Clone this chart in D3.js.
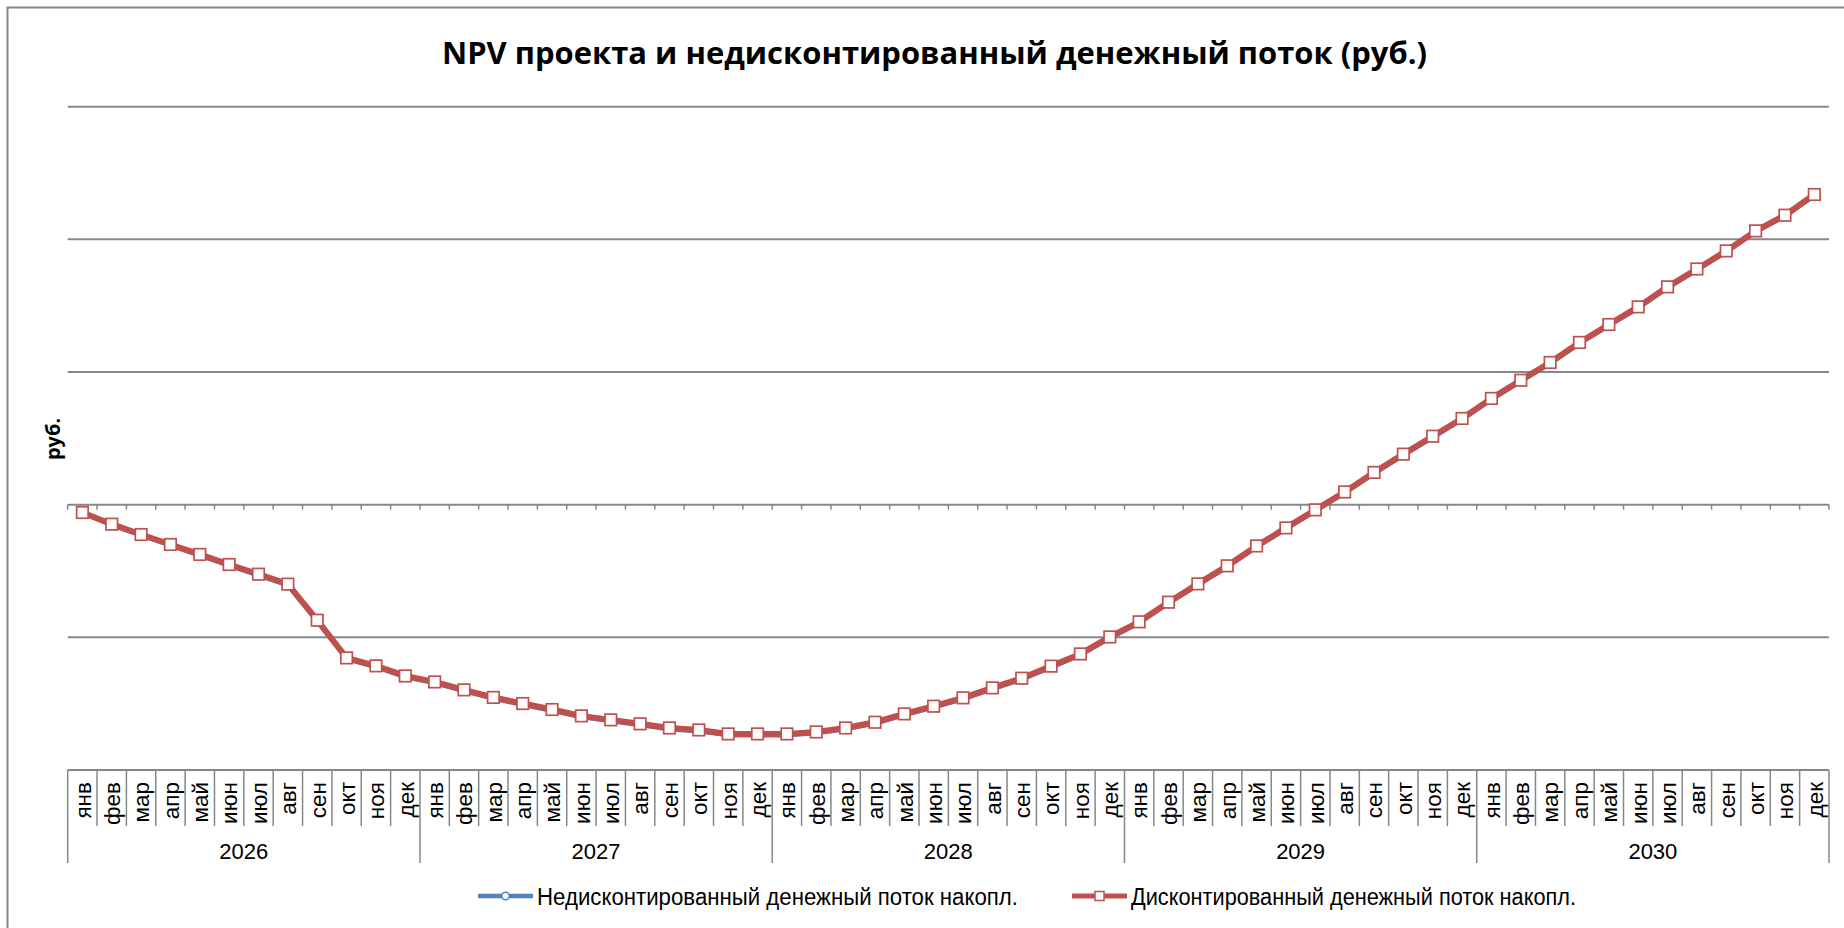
<!DOCTYPE html>
<html>
<head>
<meta charset="utf-8">
<script src="https://cdn.jsdelivr.net/npm/d3@7"></script>
<style>
  html, body { margin: 0; padding: 0; background: #fff; }
  svg { display: block; }
</style>
</head>
<body>
<svg id="chart" width="1844" height="928"></svg>
<script>
// ---------- DATA ----------
const months = ["янв","фев","мар","апр","май","июн","июл","авг","сен","окт","ноя","дек"];
const years = ["2026","2027","2028","2029","2030"];
const seriesNames = ["Недисконтированный денежный поток накопл.", "Дисконтированный денежный поток накопл."];

// Недисконтированный денежный поток накопл. (руб.)
const undiscounted = [
  -650000, -1550000, -2340000, -3090000, -3850000, -4610000, -5350000, -6100000, -8820000, -11660000, -12260000, -13020000,
  -13470000, -14070000, -14640000, -15100000, -15550000, -16030000, -16330000, -16630000, -16940000, -17090000, -17390000, -17390000,
  -17390000, -17240000, -16940000, -16510000, -15880000, -15300000, -14670000, -13920000, -13190000, -12280000, -11360000, -10080000,
  -8940000, -7460000, -6080000, -4720000, -3220000, -1860000, -500000, 850000, 2320000, 3700000, 5050000, 6390000,
  7900000, 9270000, 10610000, 12120000, 13470000, 14800000, 16310000, 17660000, 19020000, 20530000, 21710000, 23270000
];
// Дисконтированный денежный поток накопл. (руб.)
const discounted = [
  -590000, -1470000, -2250000, -3000000, -3750000, -4510000, -5240000, -5990000, -8710000, -11550000, -12150000, -12910000,
  -13360000, -13960000, -14530000, -14990000, -15440000, -15920000, -16220000, -16520000, -16830000, -16980000, -17280000, -17280000,
  -17280000, -17130000, -16830000, -16400000, -15770000, -15190000, -14560000, -13810000, -13080000, -12170000, -11250000, -9970000,
  -8830000, -7350000, -5970000, -4610000, -3110000, -1750000, -390000, 960000, 2430000, 3810000, 5160000, 6500000,
  8010000, 9380000, 10720000, 12230000, 13580000, 14910000, 16420000, 17770000, 19130000, 20640000, 21820000, 23380000
];
const yDomain = [-20000000, 30000000];

// ---------- LAYOUT ----------
const svg = d3.select("#chart");
const GRID = "#878787";
const BLUE = "#4F81BD", RED = "#C0504D";
const plot = { left: 67.7, right: 1829, top: 106.7, bottom: 770 };

const categories = years.flatMap(yr => months.map(m => ({ year: yr, month: m, key: yr + "-" + m })));
const x = d3.scaleBand().domain(categories.map(d => d.key)).range([plot.left, plot.right]).paddingInner(0).paddingOuter(0);
const y = d3.scaleLinear().domain(yDomain).range([plot.bottom, plot.top]);
const cx = k => x(k) + x.bandwidth() / 2;

// chart border (left + top visible)
svg.append("path").attr("d", "M7.5,928 L7.5,7.5 L1844,7.5")
  .attr("fill", "none").attr("stroke", GRID).attr("stroke-width", 2);

// title
svg.append("text")
  .attr("x", 442).attr("y", 64)
  .attr("textLength", 985).attr("lengthAdjust", "spacingAndGlyphs")
  .attr("font-family", "'Open Sans', 'DejaVu Sans', sans-serif")
  .attr("font-weight", "bold").attr("font-size", 30)
  .attr("fill", "#000")
  .text("NPV проекта и недисконтированный денежный поток (руб.)");

// y axis title
svg.append("text")
  .attr("transform", "translate(60,439) rotate(-90)")
  .attr("text-anchor", "middle")
  .attr("font-family", "'Open Sans', 'DejaVu Sans', sans-serif")
  .attr("font-weight", "bold").attr("font-size", 20)
  .attr("fill", "#000")
  .text("руб.");

// gridlines (incl. zero axis and lower box line)
const ticks = y.ticks(5);
svg.append("g").selectAll("line").data(ticks).join("line")
  .attr("x1", plot.left).attr("x2", plot.right)
  .attr("y1", d => y(d)).attr("y2", d => y(d))
  .attr("stroke", GRID).attr("stroke-width", 2);

// tick marks on the zero axis at category boundaries
const boundaries = categories.map(d => x(d.key)).concat([plot.right]);
svg.append("g").selectAll("line").data(boundaries).join("line")
  .attr("x1", d => d).attr("x2", d => d)
  .attr("y1", y(0)).attr("y2", y(0) + 5)
  .attr("stroke", GRID).attr("stroke-width", 1.5);

// multi-level category box
const yBox = y(yDomain[0]);
svg.append("g").selectAll("line").data(boundaries).join("line")
  .attr("x1", d => d).attr("x2", d => d)
  .attr("y1", yBox).attr("y2", (d, i) => (i % 12 === 0) ? yBox + 93 : yBox + 56)
  .attr("stroke", GRID).attr("stroke-width", 1.5);

// month labels
svg.append("g").selectAll("text").data(categories).join("text")
  .attr("transform", d => `translate(${cx(d.key)},${yBox + 12}) rotate(-90)`)
  .attr("text-anchor", "end").attr("dy", "0.37em")
  .attr("font-family", "'Liberation Sans', Arial, sans-serif")
  .attr("font-size", 22.5).attr("fill", "#000")
  .text(d => d.month);

// year labels
svg.append("g").selectAll("text").data(years).join("text")
  .attr("x", yr => (x(yr + "-" + months[0]) + x(yr + "-" + months[11]) + x.bandwidth()) / 2)
  .attr("y", yBox + 89)
  .attr("text-anchor", "middle")
  .attr("font-family", "'Liberation Sans', Arial, sans-serif")
  .attr("font-size", 22).attr("fill", "#000")
  .text(yr => yr);

// series lines
const line = d3.line().x((d, i) => cx(categories[i].key)).y(d => y(d));
svg.append("path").datum(undiscounted).attr("d", line)
  .attr("fill", "none").attr("stroke", BLUE).attr("stroke-width", 4).attr("stroke-linejoin", "round");
svg.append("g").selectAll("circle").data(undiscounted).join("circle")
  .attr("cx", (d, i) => cx(categories[i].key)).attr("cy", d => y(d)).attr("r", 4)
  .attr("fill", "#fff").attr("stroke", BLUE).attr("stroke-width", 1.5);

svg.append("path").datum(discounted).attr("d", line)
  .attr("fill", "none").attr("stroke", RED).attr("stroke-width", 6).attr("stroke-linejoin", "round");
const ms = 11.5;
svg.append("g").selectAll("rect").data(discounted).join("rect")
  .attr("x", (d, i) => cx(categories[i].key) - ms / 2).attr("y", d => y(d) - ms / 2)
  .attr("width", ms).attr("height", ms)
  .attr("fill", "#fff").attr("stroke", RED).attr("stroke-width", 1.7);

// legend
const lg = svg.append("g");
const legendY = 896;
// blue
lg.append("line").attr("x1", 478).attr("x2", 533).attr("y1", legendY).attr("y2", legendY)
  .attr("stroke", BLUE).attr("stroke-width", 4.5);
lg.append("circle").attr("cx", 505.5).attr("cy", legendY).attr("r", 3.8)
  .attr("fill", "#fff").attr("stroke", BLUE).attr("stroke-width", 1.5);
lg.append("text").attr("x", 537).attr("y", legendY + 9)
  .attr("textLength", 481).attr("lengthAdjust", "spacingAndGlyphs")
  .attr("font-family", "'Liberation Sans', Arial, sans-serif").attr("font-size", 23).attr("fill", "#000")
  .text(seriesNames[0]);
// red
lg.append("line").attr("x1", 1072).attr("x2", 1127).attr("y1", legendY).attr("y2", legendY)
  .attr("stroke", RED).attr("stroke-width", 5);
lg.append("rect").attr("x", 1099.5 - 4.5).attr("y", legendY - 4.5).attr("width", 9).attr("height", 9)
  .attr("fill", "#fff").attr("stroke", RED).attr("stroke-width", 1.5);
lg.append("text").attr("x", 1131).attr("y", legendY + 9)
  .attr("textLength", 445).attr("lengthAdjust", "spacingAndGlyphs")
  .attr("font-family", "'Liberation Sans', Arial, sans-serif").attr("font-size", 23).attr("fill", "#000")
  .text(seriesNames[1]);
</script>
</body>
</html>
